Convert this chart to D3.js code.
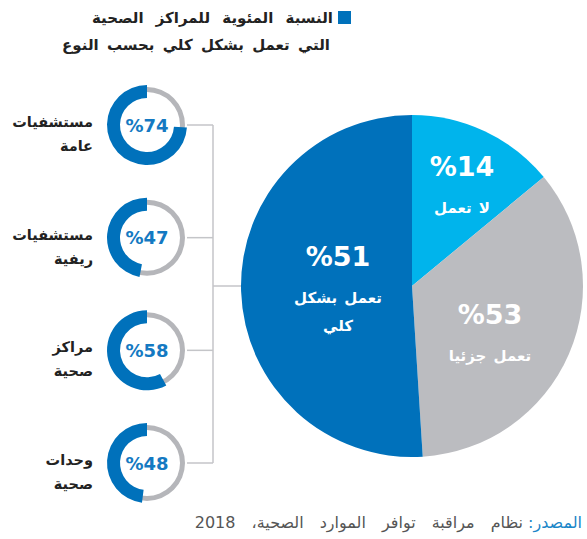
<!DOCTYPE html>
<html>
<head>
<meta charset="utf-8">
<script src="https://cdn.jsdelivr.net/npm/d3@7"></script>
<style>
body{margin:0;background:#fff;}
svg{display:block;font-family:"DejaVu Sans","Noto Sans",sans-serif;}
</style>
</head>
<body>
<div id="chart"></div>
<script>
// pie: share of health facilities by working status
var pieNames = ["لا تعمل", "تعمل جزئيا", "تعمل بشكل كلي"];
var pieValues = [14, 35, 51];
var pieLabels = ["%14", "%53", "%51"];
var pieColors = ["#00b4ec", "#bbbcc0", "#0071bb"];

// donuts: fully working share per facility type
var typeNames = [["مستشفيات", "عامة"], ["مستشفيات", "ريفية"], ["مراكز", "صحية"], ["وحدات", "صحية"]];
var typeValues = [74, 47, 58, 48];

var titleLines = ["النسبة المئوية للمراكز الصحية", "التي تعمل بشكل كلي بحسب النوع"];
var sourceLabel = "المصدر:";
var sourceText = "نظام مراقبة توافر الموارد الصحية، 2018";

var W = 587, H = 539;
var svg = d3.select("#chart").append("svg").attr("width", W).attr("height", H);

// title
svg.append("rect").attr("x", 338).attr("y", 11).attr("width", 13).attr("height", 13).attr("fill", "#0071bb");
titleLines.forEach(function(t, i){
	svg.append("text")
		.attr("x", 333 - i*3).attr("y", 23 + i*27)
		.attr("text-anchor", "end")
		.style("font-size", "15px").style("font-weight", "bold")
		.style("word-spacing", (i == 0 ? 7 : 3) + "px")
		.attr("fill", "#222")
		.text(t);
});

// connectors
var yScale = d3.scalePoint().domain(d3.range(typeValues.length)).range([125, 463]);
var donutX = 147, busX = 213, pieCx = 412, pieCy = 286, pieR = 171;
var lineColor = "#c4c5c8";
typeValues.forEach(function(v, i){
	svg.append("line").attr("x1", donutX + 40).attr("x2", busX)
		.attr("y1", yScale(i)).attr("y2", yScale(i))
		.attr("stroke", lineColor).attr("stroke-width", 1.5);
});
svg.append("line").attr("x1", busX).attr("x2", busX)
	.attr("y1", yScale(0)).attr("y2", yScale(typeValues.length-1))
	.attr("stroke", lineColor).attr("stroke-width", 1.5);
svg.append("line").attr("x1", busX).attr("x2", pieCx - pieR + 2)
	.attr("y1", pieCy).attr("y2", pieCy)
	.attr("stroke", lineColor).attr("stroke-width", 1.5);

// donuts
var track = d3.arc().innerRadius(33).outerRadius(38).startAngle(0).endAngle(2*Math.PI);
var fill = d3.arc().innerRadius(27).outerRadius(40).startAngle(0);
var pct = d3.scaleLinear().domain([0, 100]).range([0, -2*Math.PI]);

typeValues.forEach(function(v, i){
	var g = svg.append("g").attr("transform", "translate(" + donutX + "," + yScale(i) + ")");
	g.append("circle").attr("r", 27).attr("fill", "#fff");
	g.append("path").attr("d", track()).attr("fill", "#b5b6ba");
	g.append("path").attr("d", fill({endAngle: pct(v)})).attr("fill", "#0071bb");
	g.append("text").attr("y", 6.5).attr("text-anchor", "middle")
		.style("font-size", "18px").style("font-weight", "bold")
		.attr("fill", "#1479c2")
		.text("%" + v);

	typeNames[i].forEach(function(t, j){
		svg.append("text")
			.attr("x", 93).attr("y", yScale(i) + 2 + j*24)
			.attr("text-anchor", "end")
			.style("font-size", "14.5px").style("font-weight", "bold")
			.attr("fill", "#222")
			.text(t);
	});
});

// pie
var pie = d3.pie().sort(null).value(function(d){ return d; });
var arcs = pie(pieValues);
var arc = d3.arc().innerRadius(0).outerRadius(pieR);
var pg = svg.append("g").attr("transform", "translate(" + pieCx + "," + pieCy + ")");
pg.selectAll("path").data(arcs).enter().append("path")
	.attr("d", arc)
	.attr("fill", function(d, i){ return pieColors[i]; });

var pieLines = [[pieNames[0]], [pieNames[1]], ["تعمل بشكل", "كلي"]];
var labelPos = [[50, -110], [78, 38], [-74, -20]];
arcs.forEach(function(d, i){
	var p = labelPos[i];
	pg.append("text").attr("x", p[0]).attr("y", p[1])
		.attr("text-anchor", "middle")
		.style("font-size", "27px").style("font-weight", "bold")
		.attr("fill", "#fff")
		.text(pieLabels[i]);
	pieLines[i].forEach(function(t, j){
		pg.append("text").attr("x", p[0]).attr("y", p[1] + 37 + j*28)
			.attr("text-anchor", "middle")
			.style("font-size", "15px").style("font-weight", "bold")
			.style("word-spacing", "2px")
			.attr("fill", "#fff")
			.text(t);
	});
});

// source
var src = svg.append("text").attr("x", 582).attr("y", 528)
	.attr("direction", "rtl")
	.attr("text-anchor", "start")
	.style("font-size", "16px")
	.attr("fill", "#1a86c8")
	.text(sourceLabel);
var sw = src.node().getComputedTextLength();
svg.append("text").attr("x", 582 - sw - 5).attr("y", 528)
	.attr("direction", "rtl")
	.attr("text-anchor", "start")
	.style("font-size", "16px")
	.style("word-spacing", "11px")
	.attr("fill", "#555")
	.text(sourceText);
</script>
</body>
</html>
